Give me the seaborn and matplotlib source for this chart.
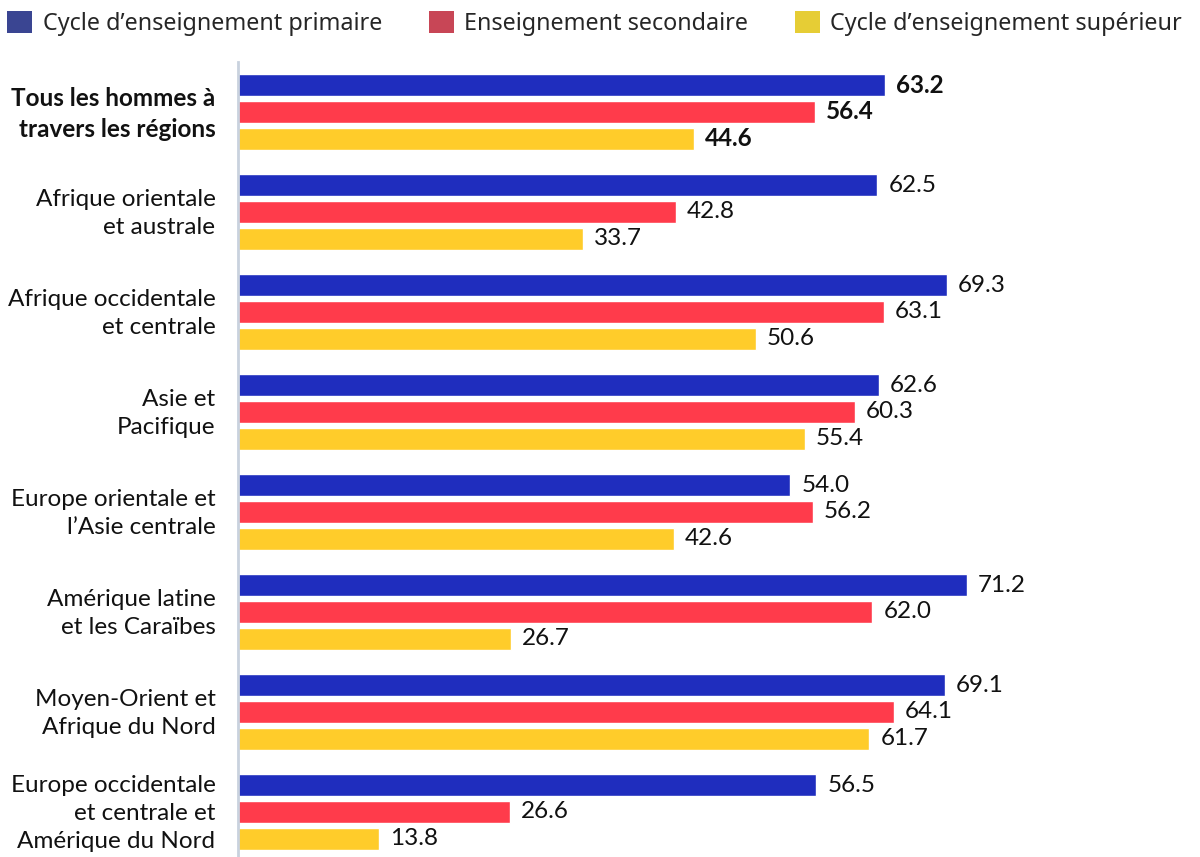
import pandas as pd
import matplotlib.pyplot as plt
import matplotlib.transforms as mtransforms
import seaborn as sns
from matplotlib.patches import Patch

# data
regions = [
    "Tous les hommes à\ntravers les régions",
    "Afrique orientale\net australe",
    "Afrique occidentale\net centrale",
    "Asie et\nPacifique",
    "Europe orientale et\nl\u2019Asie centrale",
    "Amérique latine\net les Caraïbes",
    "Moyen-Orient et\nAfrique du Nord",
    "Europe occidentale\net centrale et\nAmérique du Nord",
]
niveaux = ["Cycle d\u2019enseignement primaire", "Enseignement secondaire",
           "Cycle d\u2019enseignement supérieur"]
primaire = [63.2, 62.5, 69.3, 62.6, 54.0, 71.2, 69.1, 56.5]
secondaire = [56.4, 42.8, 63.1, 60.3, 56.2, 62.0, 64.1, 26.6]
superieur = [44.6, 33.7, 50.6, 55.4, 42.6, 26.7, 61.7, 13.8]

bar_colors = ["#1f2dbe", "#ff3b4b", "#ffcc2a"]
legend_colors = ["#3a4592", "#c84656", "#e6cd35"]

df = pd.DataFrame({
    "region": regions * 3,
    "niveau": [niveaux[0]] * 8 + [niveaux[1]] * 8 + [niveaux[2]] * 8,
    "valeur": primaire + secondaire + superieur,
})

sns.set_style("white")
plt.rcParams["font.family"] = ["Lato", "DejaVu Sans"]

fig = plt.figure(figsize=(12, 8.57), dpi=100)
ax = fig.add_axes([0.198, 0.0, 0.802, 0.9277])

sns.barplot(data=df, y="region", x="valeur", hue="niveau", orient="h",
            palette=bar_colors, saturation=1, width=0.8, gap=0.17,
            legend=False, ax=ax)

ax.set_xlim(0, 94)
ax.set_ylim(7.45, -0.5)
ax.set_xlabel("")
ax.set_ylabel("")
ax.set_xticks([])
for s in ["top", "right", "bottom"]:
    ax.spines[s].set_visible(False)
ax.spines["left"].set_color("#c9d2de")
ax.spines["left"].set_linewidth(2)

# nudge the region labels up a few pixels
shift = mtransforms.ScaledTranslation(0, 4 / 100, fig.dpi_scale_trans)
ax.tick_params(axis="y", length=0, pad=16, labelsize=17.5)
for i, lab in enumerate(ax.get_yticklabels()):
    lab.set_linespacing(1.42)
    lab.set_color("#111111")
    lab.set_transform(lab.get_transform() + shift)
    if i == 0:
        lab.set_fontweight("bold")

for cont in ax.containers:
    texts = ax.bar_label(cont, fmt="%.1f", padding=8, fontsize=17.5, color="#111111")
    texts[0].set_fontweight("bold")

handles = [Patch(facecolor=c, edgecolor="none") for c in legend_colors]
fig.legend(handles, niveaux, loc="upper left", bbox_to_anchor=(0.006, 0.987),
           ncol=3, frameon=False, handlelength=1.07, handleheight=1.05,
           handletextpad=0.45, columnspacing=2.0, borderaxespad=0, borderpad=0,
           prop={"family": ["Noto Sans", "DejaVu Sans"], "size": 16.8})

fig.savefig("out.png", dpi=100)
